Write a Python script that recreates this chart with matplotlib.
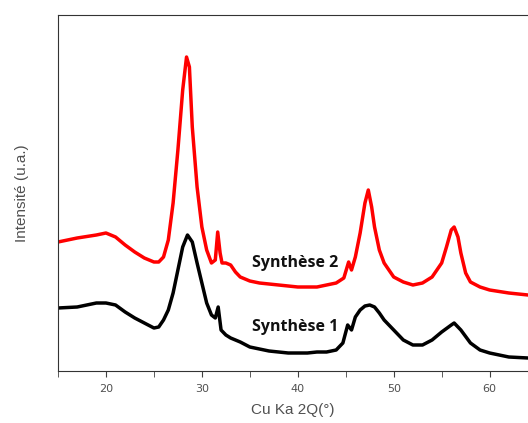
import matplotlib.pyplot as plt
from matplotlib.ticker import MultipleLocator

# Diffractogrammes (intensité en unités arbitraires)
x_s1 = [15, 17, 19, 20, 21, 22, 23, 24, 25, 25.5, 26, 26.5, 27, 27.5, 28, 28.5,
        29, 29.5, 30, 30.5, 31, 31.4, 31.7, 32, 32.5, 33, 34, 35, 36, 37, 38,
        39, 40, 41, 42, 43, 44, 44.7, 45.2, 45.6, 46, 46.5, 47, 47.5, 48, 48.5,
        49, 50, 51, 52, 53, 54, 55, 56, 56.3, 57, 58, 59, 60, 62, 64]
y_s1 = [63, 64, 68, 68, 66, 59, 53, 48, 43, 44, 51, 61, 78, 101, 124, 136,
        129, 108, 88, 68, 56, 53, 64, 41, 36, 33, 29, 24, 22, 20, 19,
        18, 18, 18, 19, 19, 21, 28, 46, 41, 54, 61, 65, 66, 64, 58,
        51, 41, 31, 26, 26, 31, 39, 46, 48, 41, 28, 21, 18, 14, 13]

x_s2 = [15, 17, 19, 20, 21, 22, 23, 24, 25, 25.5, 26, 26.5, 27, 27.5, 28, 28.4,
        28.7, 29, 29.5, 30, 30.5, 31, 31.4, 31.65, 31.9, 32.1, 32.5, 33, 33.5,
        34, 35, 36, 38, 40, 42, 44, 44.8, 45.3, 45.6, 46, 46.5, 47, 47.35, 47.7,
        48, 48.5, 49, 50, 51, 52, 53, 54, 55, 55.5, 56, 56.3, 56.7, 57, 57.5,
        58, 59, 60, 62, 64]
y_s2 = [129, 133, 136, 138, 134, 126, 119, 113, 109, 109, 114, 131, 168, 221, 281, 314,
        304, 244, 184, 144, 121, 108, 111, 139, 118, 108, 108, 106, 99,
        94, 90, 88, 86, 84, 84, 88, 93, 109, 101, 114, 138, 168, 181, 164,
        144, 121, 108, 94, 89, 86, 88, 94, 108, 124, 141, 144, 134, 118, 98,
        89, 84, 81, 78, 76]

fig = plt.figure(figsize=(5.28, 4.23), dpi=100)
ax = fig.add_axes([58 / 528, 52 / 423, 1 - 58 / 528, 356 / 423])

ax.plot(x_s1, y_s1, color='black', linewidth=2.5)
ax.plot(x_s2, y_s2, color='#ff0000', linewidth=2.5)

ax.text(35.2, 108, 'Synthèse 2', fontsize=11.5, fontweight='bold',
        family='Open Sans', color='#111111', va='center')
ax.text(35.2, 44, 'Synthèse 1', fontsize=11.5, fontweight='bold',
        family='Open Sans', color='#111111', va='center')

ax.set_xlim(15, 64)
ax.set_ylim(0, 356)
ax.set_yticks([])
ax.xaxis.set_major_locator(MultipleLocator(10))
ax.xaxis.set_minor_locator(MultipleLocator(5))
ax.tick_params(axis='x', which='both', direction='out', length=4.5,
               color='#404040', labelsize=8, labelcolor='#505050', pad=5)
for side in ['left', 'top', 'bottom']:
    ax.spines[side].set_color('#333333')
ax.spines['right'].set_visible(False)

ax.set_xlabel('Cu Ka 2Q(°)', fontsize=11, color='#505050', labelpad=6,
              family='Liberation Sans')
ax.set_ylabel('Intensité (u.a.)', fontsize=11, color='#505050', labelpad=21,
              family='Liberation Sans')

fig.savefig('out.png', dpi=100)
